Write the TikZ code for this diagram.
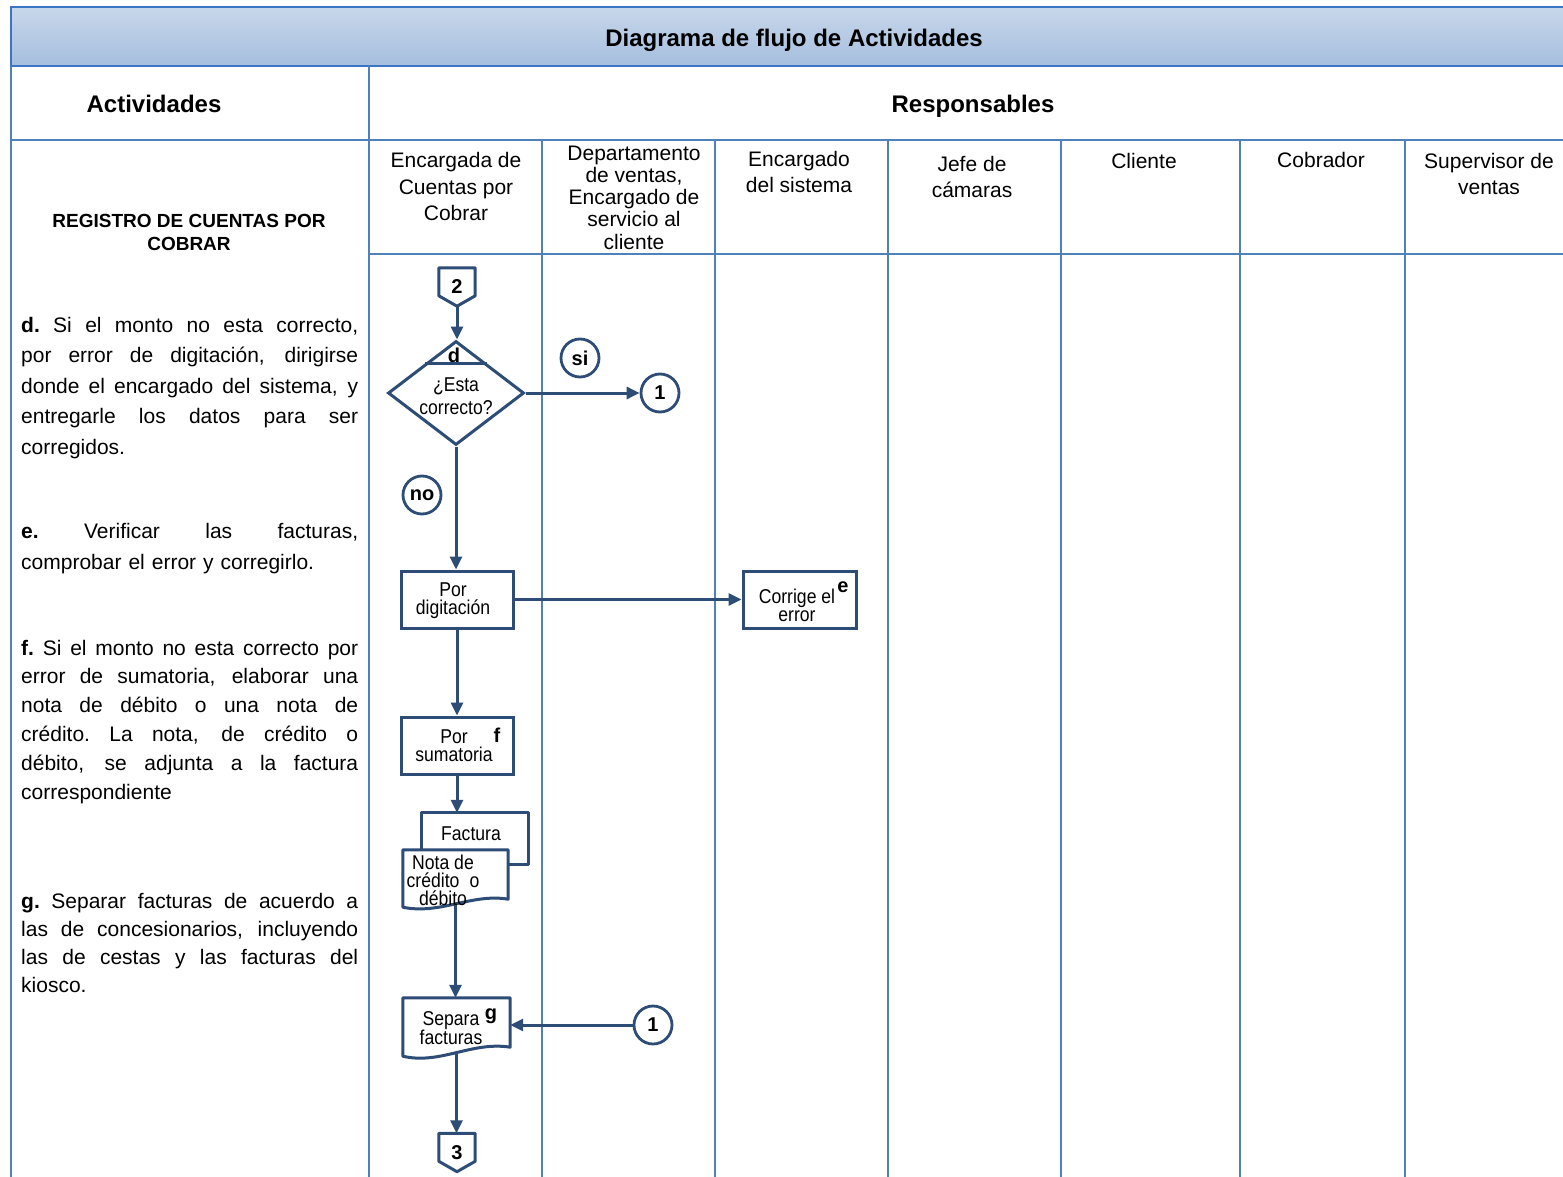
\documentclass[tikz,border=0pt]{standalone}
\usepackage{fontspec}
\setmainfont{Liberation Sans}
\newfontfamily\narrowfont[FakeStretch=0.88]{Liberation Sans}
\usetikzlibrary{arrows.meta,shapes.geometric,calc}
\definecolor{gridblue}{RGB}{79,129,189}
\definecolor{bandedge}{RGB}{58,118,196}
\definecolor{flow}{RGB}{45,76,118}
\definecolor{bandtop}{RGB}{200,215,235}
\definecolor{bandmid}{RGB}{223,231,242}
\definecolor{bandbot}{RGB}{165,190,222}
% one justified line of the activity descriptions
\newcommand{\jline}[1]{\makebox[337pt][s]{\spaceskip=0.278em plus 20em\relax\xspaceskip=0.278em plus 20em\relax #1}}
\newcommand{\fsz}[2]{\fontsize{#1}{#2}\selectfont}

\begin{document}
\begin{tikzpicture}[x=1pt,y=-1pt,
  grid/.style={draw=gridblue,line width=1.6pt},
  flowline/.style={draw=flow,line width=3pt,line join=round},
  arrowline/.style={flowline,-{Triangle[length=13pt,width=12pt]}},
  procbox/.style={draw=flow,line width=3pt,minimum width=112pt,minimum height=57pt,inner sep=0pt},
  conn/.style={circle,draw=flow,line width=2.8pt,minimum size=38pt,inner sep=0pt,font=\fsz{20}{20}\bfseries},
  offpage/.style={minimum width=36pt,minimum height=38pt,inner sep=0pt,font=\fsz{20}{20}\bfseries},
  tag/.style={inner sep=0pt,font=\fsz{20}{20}\bfseries},
  flowtext/.style={inner sep=0pt,align=center,font=\narrowfont\fsz{20}{18}},
  lanehead/.style={inner sep=0pt,align=center,anchor=base,font=\fsz{21}{26.5}},
  activity/.style={inner sep=0pt,anchor=base west,text width=337pt,align=left}
]
\useasboundingbox (0,0) rectangle (1563,1177);
\clip (0,0) rectangle (1563,1177);

% ---- table frame ----
\draw[draw=bandedge,line width=2.2pt,top color=bandtop,middle color=bandmid,bottom color=bandbot]
  (11,7) rectangle (1580,66);
\draw[grid] (11,66) -- (11,1190);
\draw[grid] (369,66) -- (369,1190);
\draw[grid] (11,140) -- (1580,140);
\draw[grid] (369,254) -- (1580,254);
\foreach \lx in {542,715,888,1061,1240,1405}
  \draw[grid] (\lx,140) -- (\lx,1190);

% ---- headings ----
\node[inner sep=0pt,anchor=base,font=\fsz{24}{24}\bfseries] (title) at (794,46.5) {Diagrama de flujo de Actividades};
\node[inner sep=0pt,anchor=base,font=\fsz{24}{24}\bfseries] (hact) at (154,112.5) {Actividades};
\node[inner sep=0pt,anchor=base,font=\fsz{24}{24}\bfseries] (hresp) at (973,112.5) {Responsables};

% lane titles, placed by the baseline of their last line
\node[lanehead] (l1) at (456,221) {Encargada de\\Cuentas por\\Cobrar};
\node[lanehead,font=\fsz{21}{22.2}] (l2) at (634,249) {Departamento\\de ventas,\\Encargado de\\servicio al\\cliente};
\node[lanehead] (l3) at (799,193) {Encargado\\del sistema};
\node[lanehead] (l4) at (972,198) {Jefe de\\cámaras};
\node[lanehead] (l5) at (1144,169) {Cliente};
\node[lanehead] (l6) at (1321,168) {Cobrador};
\node[lanehead] (l7) at (1489,195) {Supervisor de\\ventas};

% ---- activity descriptions ----
\node[inner sep=0pt,anchor=base,align=center,font=\fsz{19}{23}\bfseries] (reg) at (189,251)
  {REGISTRO DE CUENTAS POR\\COBRAR};

\node[activity,font=\fsz{21}{30.5}] (actd) at (21,332) {%
  \jline{\textbf{d.} Si el monto no esta correcto,}\\
  \jline{por error de digitación, dirigirse}\\
  \jline{donde el encargado del sistema, y}\\
  \jline{entregarle los datos para ser}\\
  corregidos.};

\node[activity,font=\fsz{21}{31}] (acte) at (21,538) {%
  \jline{\textbf{e.} Verificar las facturas,}\\
  comprobar el error y corregirlo.};

\node[activity,font=\fsz{21}{28.8}] (actf) at (21,655) {%
  \jline{\textbf{f.} Si el monto no esta correcto por}\\
  \jline{error de sumatoria, elaborar una}\\
  \jline{nota de débito o una nota de}\\
  \jline{crédito. La nota, de crédito o}\\
  \jline{débito, se adjunta a la factura}\\
  correspondiente};

\node[activity,font=\fsz{21}{28.3}] (actg) at (21,908) {%
  \jline{\textbf{g.} Separar facturas de acuerdo a}\\
  \jline{las de concesionarios, incluyendo}\\
  \jline{las de cestas y las facturas del}\\
  kiosco.};

% ---- flow: off-page connector 2 ----
\node[offpage] (c2) at (457,287) {2};
\draw[flowline] (c2.north west) -- (c2.north east) -- ($(c2.north east)+(0,28)$)
  -- (c2.south) -- ($(c2.north west)+(0,28)$) -- cycle;

% ---- decision d ----
\node[diamond,draw=flow,line width=3pt,minimum width=136pt,minimum height=104pt,inner sep=0pt] (dec) at (456,393) {};
\draw[flowline] ($(dec.north)!0.44!(dec.west)$) -- ($(dec.north)!0.44!(dec.east)$);
\node[tag] (tagd) at (454,355) {d};
\node[flowtext,font=\narrowfont\fsz{20}{23}] (dectext) at (456,396) {¿Esta\\correcto?};
\draw[arrowline] (c2.south) -- (c2.south |- dec.north);

\node[conn] (si) at (580,358) {si};
\node[conn] (no) at (422,495) {no};
\node[conn] (one1) at (660,393) {1};
\draw[arrowline] (dec.east) -- (one1.west);

% ---- por digitación / corrige el error ----
\node[procbox] (dig) at (457,599.5) {};
\node[flowtext] (digtext) at (453,601) {Por\\digitación};
\draw[arrowline] (dec.south) -- (dec.south |- dig.north);
\node[procbox,minimum width=113pt] (corr) at (799.5,599.5) {};
\node[flowtext] (corrtext) at (797,605) {Corrige el\\error};
\node[tag] (tage) at (843,587) {e};
\draw[arrowline] (dig.east) -- (corr.west);

% ---- por sumatoria ----
\node[procbox] (sum) at (457,745.5) {};
\node[flowtext] (sumtext) at (454,746) {Por\\sumatoria};
\node[tag] (tagf) at (497,735) {f};
\draw[arrowline] (dig.south) -- (dig.south |- sum.north);

% ---- factura + nota de crédito o débito ----
\node[inner sep=0pt,minimum width=106pt,minimum height=51pt] (fact) at (475,838.5) {};
\node[inner sep=0pt,minimum width=105pt,minimum height=57pt] (nota) at (455.5,878.5) {};
\draw[flowline] (fact.west |- nota.north) -- (fact.north west) -- (fact.north east)
  -- (fact.south east) -- (nota.east |- fact.south);
\draw[flowline] (nota.north west) -- (nota.north east) -- ($(nota.south east)+(0,-8)$)
  .. controls (472,893) and (440,915) .. (nota.south west) -- cycle;
\node[flowtext] (facttext) at (471,834) {Factura};
\node[flowtext] (notatext) at (443,880) {Nota de\\crédito\hspace{0.5em}o\\débito};
\draw[arrowline] (sum.south) -- (sum.south |- fact.north);

% ---- separa facturas ----
\node[inner sep=0pt,minimum width=107pt,minimum height=58pt] (sep) at (456.5,1027) {};
\draw[flowline] (sep.north west) -- (sep.north east) -- ($(sep.south east)+(0,-9)$)
  .. controls (472,1041) and (440,1065) .. (sep.south west) -- cycle;
\node[flowtext] (septext) at (451,1028) {Separa\\facturas};
\node[tag] (tagg) at (491,1016) {g};
\draw[arrowline] ($(nota.south)+(0,-2)$) -- (nota.south |- sep.north);

\node[conn] (one2) at (653,1025) {1};
\draw[arrowline] (one2.west) -- (one2.west -| sep.east);

% ---- off-page connector 3 ----
\node[offpage] (c3) at (457,1152.5) {3};
\draw[flowline] (c3.north west) -- (c3.north east) -- ($(c3.north east)+(0,28)$)
  -- (c3.south) -- ($(c3.north west)+(0,28)$) -- cycle;
\draw[arrowline] ($(sep.south)+(0,-3)$) -- (sep.south |- c3.north);
\end{tikzpicture}
\end{document}
